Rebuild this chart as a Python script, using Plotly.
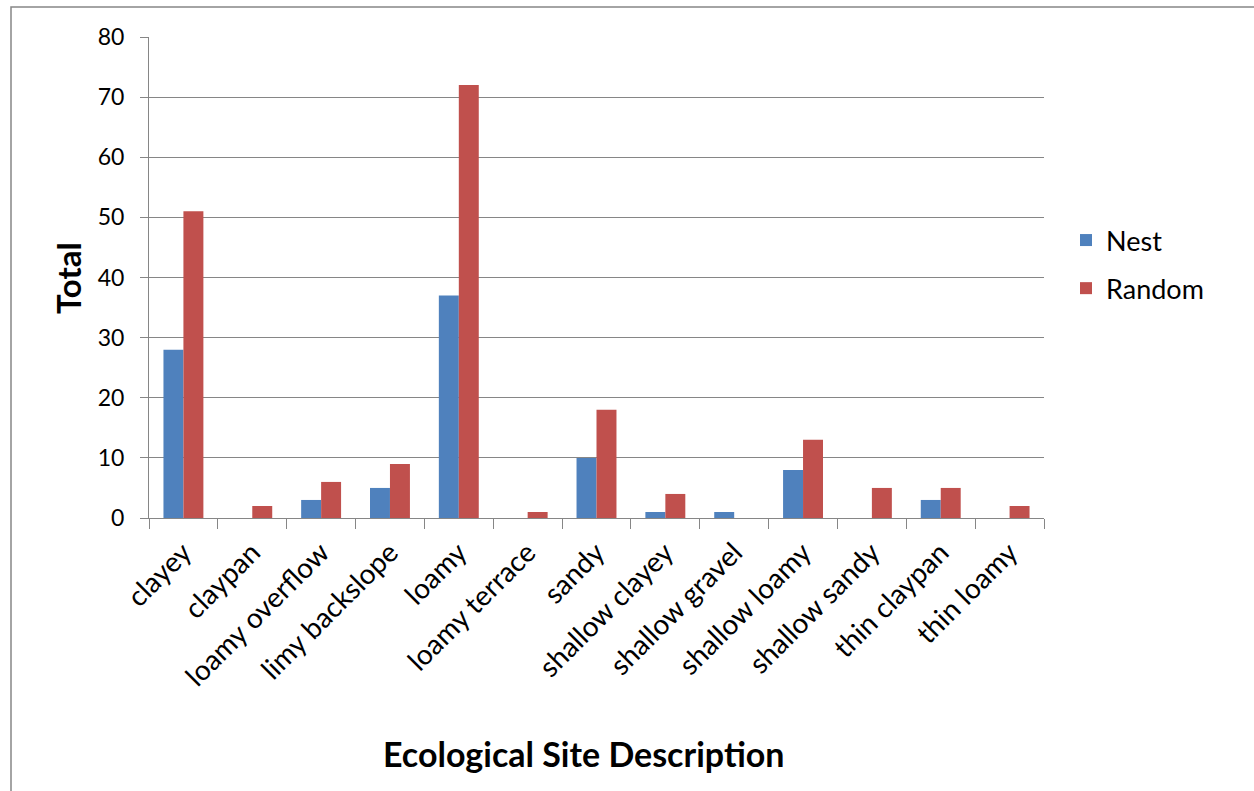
import plotly.graph_objects as go

categories = ["clayey", "claypan", "loamy overflow", "limy backslope", "loamy",
              "loamy terrace", "sandy", "shallow clayey", "shallow gravel",
              "shallow loamy", "shallow sandy", "thin claypan", "thin loamy"]
nest = [28, 0, 3, 5, 37, 0, 10, 1, 1, 8, 0, 3, 0]
random_vals = [51, 2, 6, 9, 72, 1, 18, 4, 0, 13, 5, 5, 2]
y_ticks = [0, 10, 20, 30, 40, 50, 60, 70, 80]

W, H = 1254, 791
L, R, T, B = 149, 1044, 37, 518
FONT = "Lato, 'Open Sans', sans-serif"
GRID = "#868686"

fig = go.Figure()
fig.add_bar(x=categories, y=nest, name="Nest", marker_color="#4F81BD",
            marker_line_width=0, legendgroup="a")
fig.add_bar(x=categories, y=random_vals, name="Random", marker_color="#C0504D",
            marker_line_width=0, legendgroup="b")

fig.update_layout(
    width=W, height=H,
    margin=dict(l=L, r=W - R, t=T, b=H - B, autoexpand=False),
    paper_bgcolor="white", plot_bgcolor="white",
    barmode="group", bargap=0.42, bargroupgap=0,
    font=dict(family=FONT, size=23, color="black"),
    showlegend=True,
    legend=dict(x=(1066 - L) / (R - L), xanchor="left",
                y=(B - 216) / (B - T), yanchor="top",
                font=dict(size=27), itemwidth=30, tracegroupgap=10,
                bgcolor="rgba(0,0,0,0)"),
    xaxis=dict(tickangle=-45, tickson="boundaries", ticks="outside", ticklen=10,
               tickcolor=GRID, showline=True, linecolor=GRID,
               linewidth=1, tickfont=dict(size=28), showgrid=False,
               ticklabelstandoff=6),
    yaxis=dict(range=[0, 80], tickvals=y_ticks, ticks="outside", ticklen=8,
               tickcolor=GRID, showline=True, linecolor=GRID,
               linewidth=1, gridcolor=GRID, gridwidth=1,
               tickfont=dict(size=23), zeroline=False, ticklabelstandoff=11),
)

fig.add_annotation(text="<b>Total</b>", xref="paper", yref="paper",
                   x=(68 - L) / (R - L), y=(B - 278) / (B - T), textangle=-90,
                   showarrow=False, font=dict(size=33, family=FONT),
                   xanchor="center", yanchor="middle")
fig.add_annotation(text="<b>Ecological Site Description</b>", xref="paper", yref="paper",
                   x=(584 - L) / (R - L), y=(B - 753) / (B - T),
                   showarrow=False, font=dict(size=34, family=FONT),
                   xanchor="center", yanchor="middle")

# chart frame (left and top edges visible)
fig.add_shape(type="rect", xref="paper", yref="paper",
              x0=(11 - L) / (R - L), x1=(W + 20 - L) / (R - L),
              y0=(B - (H + 20)) / (B - T), y1=(B - 7) / (B - T),
              line=dict(color=GRID, width=1.5), layer="below")

fig.write_html("out.html")
